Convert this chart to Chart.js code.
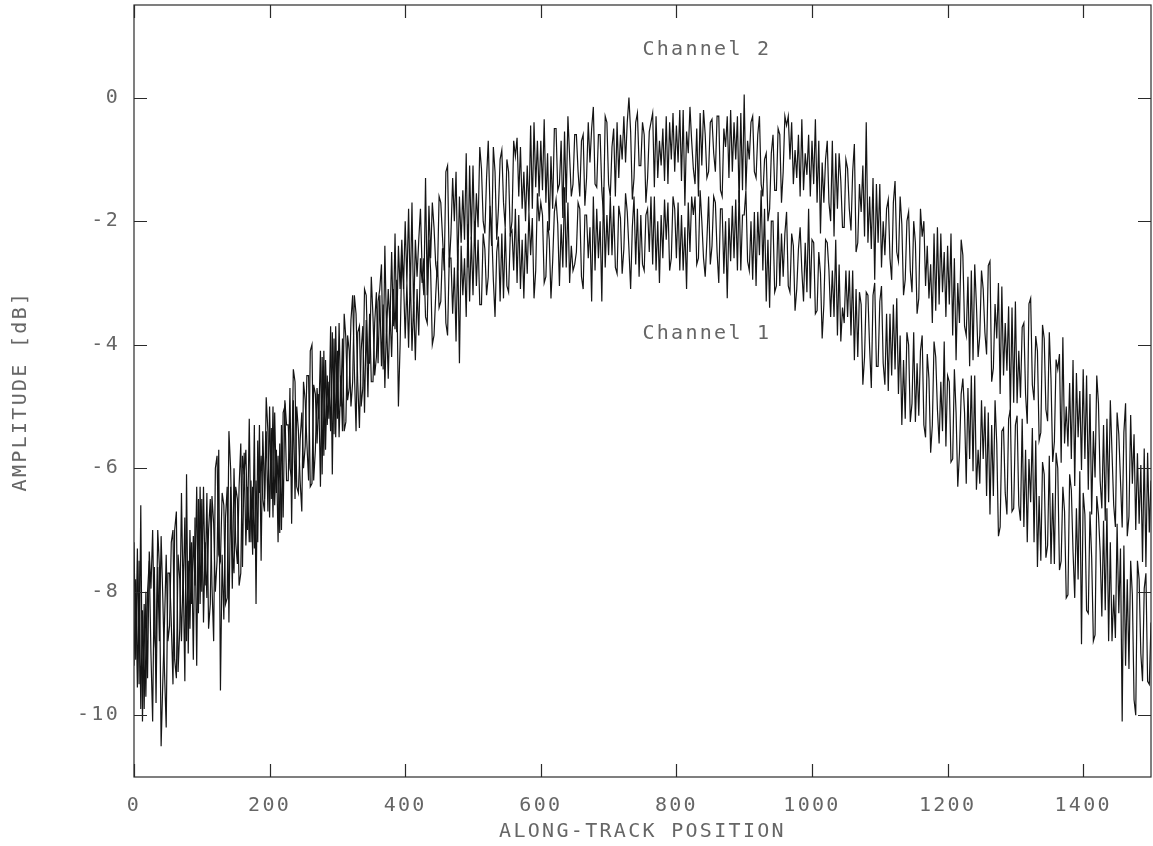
<!DOCTYPE html>
<html lang="en">
<head>
    <meta charset="UTF-8">
    <title>Along-track amplitude</title>
    <style>
        body {
            margin: 0;
            padding: 0;
            background-color: #fff;
        }

        #wrap {
            width: 1153px;
            height: 846px;
        }
    </style>
    <script src="https://cdn.jsdelivr.net/npm/chart.js"></script>
</head>
<body>

<div id="wrap">
    <canvas id="ampChart" width="1153" height="846"></canvas>
</div>

<script>
    // one sample every 2.5 units of along-track position, 0..1500
    const sampleStep = 2.5;

    const channel2 = [
        -7.2, -9.1, -7.3, -9.5, -6.6, -10.1, -8.2, -9.7, -8.0, -7.5, -9.0, -10.1, -7.6, -9.8, -7.6, -8.8, -7.1, -8.1, -9.3, -10.2,
        -7.7, -7.7, -8.5, -9.5, -7.0, -6.7, -9.3, -8.6, -6.4, -8.1, -6.8, -8.8, -7.5, -8.6, -7.2, -9.1, -6.8, -9.2, -6.5, -8.2,
        -6.5, -8.5, -7.2, -8.1, -7.0, -6.5, -7.9, -8.8, -6.0, -5.8, -7.4, -7.5, -6.4, -6.6, -8.2, -8.1, -5.4, -6.0, -7.3, -7.7,
        -6.3, -6.5, -7.9, -7.7, -5.8, -6.1, -5.7, -7.0, -5.2, -7.2, -6.3, -7.3, -6.2, -7.2, -5.3, -7.5, -5.4, -6.5, -5.4, -6.7,
        -5.0, -6.5, -5.0, -6.6, -5.7, -7.2, -5.6, -7.0, -5.1, -5.0, -6.2, -6.2, -4.7, -6.9, -4.9, -6.5, -5.0, -5.4, -6.2, -6.7,
        -4.6, -4.9, -5.6, -6.2, -4.1, -4.0, -6.2, -5.7, -4.7, -5.2, -4.1, -6.1, -4.1, -5.7, -4.5, -5.2, -3.7, -6.1, -3.9, -5.5,
        -4.1, -5.5, -4.5, -5.4, -3.5, -3.9, -4.9, -4.7, -3.6, -3.2, -4.4, -5.4, -3.8, -3.7, -5.0, -4.7, -3.1, -3.2, -4.3, -4.3,
        -2.9, -3.55, -4.5, -4.2, -3.3, -3.1, -2.7, -4.4, -2.4, -3.8, -3.1, -3.7, -2.5, -3.7, -2.2, -3.8, -2.4, -3.1, -2.3, -3.1,
        -2.0, -3.0, -1.8, -3.2, -1.7, -3.55, -2.3, -2.9, -2.3, -1.8, -2.8, -3.2, -1.3, -3.2, -1.75, -2.6, -1.7, -2.1, -2.7, -2.9,
        -1.6, -1.7, -2.25, -2.8, -1.2, -1.1, -2.75, -2.2, -1.3, -2.0, -1.2, -2.8, -1.6, -2.35, -1.5, -2.3, -0.9, -2.75, -1.1, -2.3,
        -1.1, -2.4, -1.55, -2.1, -0.8, -1.15, -2.0, -2.2, -1.3, -0.7, -1.75, -2.4, -0.8, -1.2, -2.3, -1.8, -1.0, -0.85, -1.7, -2.1,
        -1.0, -1.2, -2.25, -2.0, -0.7, -0.95, -0.65, -1.6, -0.8, -1.8, -1.2, -2.0, -1.1, -1.85, -0.45, -1.8, -0.4, -1.45, -0.7, -1.6,
        -0.7, -1.5, -0.35, -1.7, -0.9, -2.15, -0.95, -1.8, -0.5, -0.5, -1.5, -1.4, -0.7, -1.95, -0.55, -1.7, -0.3, -0.95, -1.6, -1.4,
        -0.6, -0.6, -1.2, -1.6, -0.7, -0.6, -1.75, -1.3, -0.4, -1.05, -0.5, -0.15, -1.4, -1.45, -0.6, -0.6, -1.5, -1.9, -0.3, -0.4,
        -1.4, -1.6, -0.8, -0.5, -1.6, -0.4, -1.3, -0.6, -1.0, -0.3, -1.05, -0.4, 0.0, -0.55, -1.65, -1.3, -0.4, -0.25, -1.1, -1.1,
        -0.4, -0.6, -1.7, -1.3, -0.55, -0.4, -0.25, -1.45, -0.3, -1.3, -0.7, -1.1, -0.5, -1.35, -0.3, -1.4, -0.4, -1.0, -0.25, -1.2,
        -0.45, -1.05, -0.2, -1.35, -0.2, -1.75, -0.55, -0.9, -0.15, -0.7, -1.15, -1.4, -0.5, -1.6, -0.25, -1.1, -0.2, -0.6, -1.3, -1.2,
        -0.4, -0.35, -0.9, -1.2, -0.3, -0.3, -1.5, -1.6, -0.5, -0.8, -0.3, -1.3, -0.2, -1.2, -0.4, -1.0, -0.3, -1.7, -0.25, -1.5,
        0.05, -1.5, -0.7, -1.0, -0.4, -0.3, -1.2, -1.3, -0.6, -0.3, -1.4, -1.6, -1.0, -0.9, -2.0, -1.8, -0.9, -0.6, -1.5, -1.5,
        -0.5, -0.6, -1.7, -1.2, -0.3, -0.45, -0.3, -1.0, -0.4, -1.4, -0.85, -1.3, -0.6, -1.6, -0.35, -1.5, -0.9, -1.25, -0.6, -1.6,
        -0.7, -1.4, -0.35, -1.7, -0.7, -2.2, -1.05, -1.7, -1.0, -0.7, -1.7, -2.0, -0.7, -2.25, -0.9, -1.8, -0.9, -1.35, -2.1, -2.1,
        -1.0, -1.15, -1.8, -2.15, -1.2, -0.75, -2.5, -2.35, -1.4, -1.85, -1.1, -2.25, -0.4, -2.35, -1.6, -2.45, -1.3, -2.95, -1.4, -2.35,
        -1.4, -2.75, -2.0, -2.55, -1.8, -1.65, -2.6, -2.95, -1.7, -1.35, -2.5, -2.65, -1.6, -2.05, -3.2, -2.95, -2.0, -1.85, -2.8, -3.15,
        -2.0, -2.35, -3.5, -3.25, -1.8, -2.25, -2.0, -3.05, -2.4, -3.25, -2.7, -3.65, -2.2, -3.45, -2.1, -3.35, -2.2, -3.15, -2.5, -3.55,
        -2.4, -3.35, -2.2, -3.85, -2.6, -4.25, -3.0, -3.65, -2.3, -2.55, -3.7, -3.85, -2.9, -4.35, -2.8, -4.25, -2.7, -3.35, -4.2, -3.85,
        -2.8, -3.1, -3.8, -4.16, -2.72, -2.65, -4.6, -4.38, -3.34, -3.9, -3.0, -4.8, -3.06, -4.5, -3.65, -4.42, -3.38, -5.1, -3.4, -4.94,
        -3.3, -4.95, -4.1, -4.86, -3.72, -3.65, -4.8, -5.28, -3.34, -3.25, -4.65, -4.9, -3.86, -4.1, -5.55, -5.42, -3.68, -3.9, -5.05, -5.24,
        -3.8, -4.55, -5.9, -5.57, -4.24, -4.4, -4.15, -5.91, -3.88, -5.6, -5.0, -5.65, -4.62, -5.85, -4.25, -6.29, -4.46, -5.5, -4.75, -6.03,
        -4.4, -5.85, -4.5, -6.35, -4.8, -6.75, -5.4, -6.15, -4.5, -4.95, -6.2, -6.65, -5.3, -6.85, -5.2, -6.55, -4.9, -5.75, -6.6, -6.95,
        -5.1, -5.45, -6.2, -6.96, -5.42, -4.95, -7.1, -6.78, -5.14, -6.25, -5.45, -7.0, -5.76, -6.9, -5.95, -7.52, -5.68, -7.6, -5.75, -7.04,
        -6.2
    ];

    const channel1 = [
        -9.2, -7.8, -9.55, -7.5, -9.9, -8.3, -9.9, -8.0, -9.4, -7.35, -7.95, -7.0, -8.7, -9.0, -7.0, -7.6, -10.5, -9.45, -8.5, -7.4,
        -8.8, -8.55, -7.2, -7.0, -9.1, -9.4, -7.4, -7.8, -8.8, -7.65, -9.45, -6.1, -9.0, -7.0, -8.2, -7.1, -7.9, -6.3, -8.35, -6.3,
        -8.0, -6.3, -7.9, -6.4, -8.6, -8.2, -6.45, -6.9, -8.0, -7.5, -5.7, -9.6, -7.4, -8.45, -6.8, -6.3, -8.5, -6.3, -7.95, -6.0,
        -7.2, -7.55, -6.3, -5.6, -7.6, -5.75, -7.25, -6.3, -7.2, -6.2, -7.4, -5.3, -8.2, -5.55, -6.4, -5.8, -6.5, -6.7, -4.85, -5.4,
        -6.8, -5.35, -6.8, -5.1, -6.4, -5.8, -7.05, -5.3, -6.8, -4.9, -5.3, -5.3, -6.0, -6.15, -4.4, -4.6, -6.3, -6.4, -5.55, -5.1,
        -6.0, -5.65, -4.5, -4.5, -6.3, -6.25, -4.65, -4.8, -5.6, -4.8, -6.3, -4.2, -5.8, -4.25, -5.3, -4.6, -5.4, -3.8, -5.45, -3.7,
        -5.2, -3.65, -5.0, -3.9, -5.4, -5.25, -3.85, -4.1, -5.0, -4.6, -3.2, -3.5, -4.6, -5.35, -4.1, -3.7, -5.1, -3.6, -4.85, -3.5,
        -4.6, -4.6, -3.65, -3.15, -4.3, -3.2, -4.35, -3.35, -4.7, -3.6, -4.55, -3.45, -4.2, -3.1, -3.75, -2.95, -5.0, -4.0, -2.55, -2.95,
        -3.9, -3.0, -4.05, -2.85, -4.1, -3.3, -4.25, -3.1, -3.85, -2.6, -3.0, -2.6, -3.55, -3.65, -2.3, -2.8, -4.0, -3.85, -3.2, -2.65,
        -3.4, -3.3, -2.45, -2.45, -3.65, -3.85, -2.6, -2.6, -3.5, -2.75, -3.95, -2.45, -4.3, -2.4, -3.2, -2.6, -3.55, -2.05, -3.3, -2.25,
        -3.2, -2.0, -3.05, -2.3, -3.35, -3.35, -2.2, -2.45, -3.2, -2.9, -1.75, -2.1, -2.95, -3.55, -2.5, -2.25, -3.3, -2.2, -3.25, -2.1,
        -3.05, -3.15, -2.2, -2.15, -2.8, -1.8, -3.0, -1.9, -3.1, -2.3, -3.25, -2.2, -2.85, -1.85, -2.55, -1.95, -3.25, -2.8, -1.55, -2.0,
        -1.7, -1.9, -3.0, -2.9, -2.0, -2.3, -3.25, -2.65, -1.85, -1.65, -2.05, -3.05, -2.05, -2.75, -1.45, -2.75, -1.7, -3.0, -2.4, -2.8,
        -2.7, -2.5, -1.7, -1.8, -2.9, -3.1, -1.9, -1.9, -2.6, -2.1, -3.3, -1.6, -2.8, -1.8, -2.6, -2.0, -3.3, -1.45, -2.75, -1.9,
        -2.55, -1.6, -2.55, -1.75, -2.75, -2.85, -1.75, -1.95, -2.85, -2.45, -1.55, -1.85, -2.45, -3.1, -2.1, -1.6, -2.7, -1.8, -2.9, -1.9,
        -2.7, -2.8, -1.9, -1.8, -2.5, -1.6, -2.7, -1.6, -2.8, -2.0, -3.0, -1.9, -2.6, -1.65, -2.3, -1.7, -2.8, -2.6, -1.6, -1.8,
        -2.6, -1.7, -2.8, -1.9, -2.8, -2.1, -3.1, -1.7, -2.5, -1.6, -1.9, -1.6, -2.7, -2.6, -1.5, -2.0, -2.6, -2.9, -2.3, -1.6,
        -2.7, -2.4, -1.6, -1.7, -2.5, -3.0, -1.8, -1.8, -2.85, -2.0, -3.25, -1.95, -2.65, -1.75, -2.6, -1.65, -2.8, -1.5, -2.8, -1.9,
        -1.9, -1.5, -2.65, -2.8, -2.0, -2.95, -1.85, -3.05, -1.85, -2.55, -1.5, -2.8, -1.8, -3.3, -2.3, -3.4, -2.0, -2.0, -3.15, -3.05,
        -1.85, -3.05, -2.2, -2.9, -2.2, -1.85, -3.05, -3.15, -2.2, -2.4, -3.45, -3.1, -2.45, -2.1, -2.8, -3.3, -2.35, -3.15, -1.8, -3.25,
        -2.3, -2.35, -3.5, -3.45, -2.5, -2.85, -3.9, -3.35, -2.3, -2.35, -2.8, -3.55, -2.8, -3.55, -2.3, -3.85, -2.7, -3.95, -3.4, -3.65,
        -2.8, -3.55, -2.8, -3.85, -2.8, -4.25, -3.1, -4.2, -3.15, -3.35, -4.65, -4.2, -3.15, -3.2, -4.05, -4.7, -3.2, -3.0, -4.35, -4.35,
        -3.3, -3.05, -4.3, -4.65, -3.5, -4.75, -3.5, -4.5, -3.35, -4.4, -3.25, -4.8, -3.85, -5.3, -4.25, -5.2, -3.8, -4.0, -5.25, -4.95,
        -3.8, -5.25, -4.3, -5.15, -4.1, -3.85, -5.3, -5.5, -4.15, -4.55, -5.75, -5.3, -3.95, -4.2, -5.05, -5.6, -4.6, -5.4, -3.95, -5.65,
        -4.5, -4.6, -5.9, -5.85, -4.4, -5.1, -6.3, -5.75, -4.8, -4.55, -5.1, -6.25, -4.7, -5.85, -4.5, -6.05, -4.5, -6.35, -5.7, -6.25,
        -4.9, -5.85, -5.0, -6.45, -5.1, -6.75, -5.3, -6.45, -4.9, -5.6, -7.1, -6.95, -5.4, -5.35, -6.4, -6.75, -5.2, -5.05, -6.7, -6.65,
        -5.3, -5.15, -6.6, -6.85, -5.2, -6.95, -5.7, -7.2, -5.85, -6.55, -5.35, -7.2, -5.55, -7.6, -6.45, -7.5, -5.9, -6.1, -7.45, -7.25,
        -5.8, -7.55, -6.4, -7.55, -5.75, -6.0, -7.65, -7.5, -6.3, -6.7, -8.1, -8.05, -6.1, -6.35, -7.35, -8.1, -6.65, -7.8, -6.05, -8.85,
        -6.4, -6.75, -8.3, -8.35, -6.7, -7.45, -8.8, -8.7, -6.45, -6.75, -7.35, -8.4, -6.85, -8.3, -6.65, -8.8, -7.2, -8.8, -8.05, -8.75,
        -6.9, -8.35, -7.3, -10.1, -7.25, -9.2, -7.8, -9.25, -7.5, -8.05, -9.75, -10.0, -7.5, -7.8, -9.0, -9.45, -7.95, -7.7, -9.45, -9.5,
        -8.5
    ];

    const xTicks = [0, 200, 400, 600, 800, 1000, 1200, 1400];
    const yTicks = [-10, -8, -6, -4, -2, 0];

    // curve labels placed in data units
    const curveLabels = [
        { text: 'Channel 2', x: 845, y: 0.78 },
        { text: 'Channel 1', x: 845, y: -3.83 }
    ];

    const textColor = '#666';
    const lineColor = '#151515';
    const fontFamily = "'DejaVu Sans Mono', monospace";

    function toPoints(values) {
        return values.map(function (v, i) {
            return { x: i * sampleStep, y: v };
        });
    }

    // frame with inward ticks on all four sides, plus the curve labels
    const frameTicks = {
        id: 'frameTicks',
        beforeDraw(chart) {
            chart.ctx.letterSpacing = '2.3px';
        },
        afterDatasetsDraw(chart) {
            const ctx = chart.ctx;
            const a = chart.chartArea;
            const xs = chart.scales.x;
            const ys = chart.scales.y;
            const len = 13;

            ctx.save();
            ctx.strokeStyle = '#2a2a2a';
            ctx.lineWidth = 1.2;
            ctx.strokeRect(a.left, a.top, a.right - a.left, a.bottom - a.top);

            ctx.beginPath();
            xs.ticks.forEach(function (t) {
                const px = Math.round(xs.getPixelForValue(t.value)) + 0.5;
                ctx.moveTo(px, a.bottom);
                ctx.lineTo(px, a.bottom - len);
                ctx.moveTo(px, a.top);
                ctx.lineTo(px, a.top + len);
            });
            ys.ticks.forEach(function (t) {
                const py = Math.round(ys.getPixelForValue(t.value)) + 0.5;
                ctx.moveTo(a.left, py);
                ctx.lineTo(a.left + len, py);
                ctx.moveTo(a.right, py);
                ctx.lineTo(a.right - len, py);
            });
            ctx.stroke();

            ctx.fillStyle = textColor;
            ctx.font = '20px ' + fontFamily;
            ctx.textAlign = 'center';
            ctx.textBaseline = 'middle';
            curveLabels.forEach(function (l) {
                ctx.fillText(l.text, xs.getPixelForValue(l.x), ys.getPixelForValue(l.y));
            });
            ctx.restore();
        }
    };

    const ctx = document.getElementById('ampChart').getContext('2d');
    new Chart(ctx, {
        type: 'line',
        data: {
            datasets: [
                {
                    label: 'Channel 2',
                    data: toPoints(channel2),
                    borderColor: lineColor,
                    borderWidth: 1.2,
                    pointRadius: 0,
                    tension: 0
                },
                {
                    label: 'Channel 1',
                    data: toPoints(channel1),
                    borderColor: lineColor,
                    borderWidth: 1.2,
                    pointRadius: 0,
                    tension: 0
                }
            ]
        },
        options: {
            responsive: false,
            animation: false,
            devicePixelRatio: 1,
            layout: {
                padding: { top: 5, right: 2, left: 0, bottom: 0 }
            },
            plugins: {
                legend: { display: false },
                tooltip: { enabled: false }
            },
            scales: {
                x: {
                    type: 'linear',
                    min: 0,
                    max: 1500,
                    afterFit: function (s) {
                        s.height = 69;
                        s.paddingLeft = 0;
                        s.paddingRight = 0;
                    },
                    afterBuildTicks: function (s) {
                        s.ticks = xTicks.map(function (v) { return { value: v }; });
                    },
                    grid: { display: false, drawTicks: false },
                    border: { display: false },
                    ticks: {
                        color: textColor,
                        padding: 17,
                        maxRotation: 0,
                        font: { family: fontFamily, size: 20 },
                        callback: function (v) { return String(v); }
                    },
                    title: {
                        display: true,
                        text: 'ALONG-TRACK POSITION',
                        color: textColor,
                        font: { family: fontFamily, size: 20 },
                        padding: { top: 0, bottom: 2 }
                    }
                },
                y: {
                    type: 'linear',
                    min: -11,
                    max: 1.5,
                    afterFit: function (s) {
                        s.width = 134;
                        s.paddingTop = 0;
                        s.paddingBottom = 0;
                    },
                    afterBuildTicks: function (s) {
                        s.ticks = yTicks.map(function (v) { return { value: v }; });
                    },
                    grid: { display: false, drawTicks: false },
                    border: { display: false },
                    ticks: {
                        color: textColor,
                        padding: 14,
                        font: { family: fontFamily, size: 20 },
                        callback: function (v) { return String(v); }
                    },
                    title: {
                        display: true,
                        text: 'AMPLITUDE [dB]',
                        color: textColor,
                        font: { family: fontFamily, size: 20 },
                        padding: { top: 9, bottom: 0 }
                    }
                }
            }
        },
        plugins: [frameTicks]
    });
</script>

</body>
</html>
